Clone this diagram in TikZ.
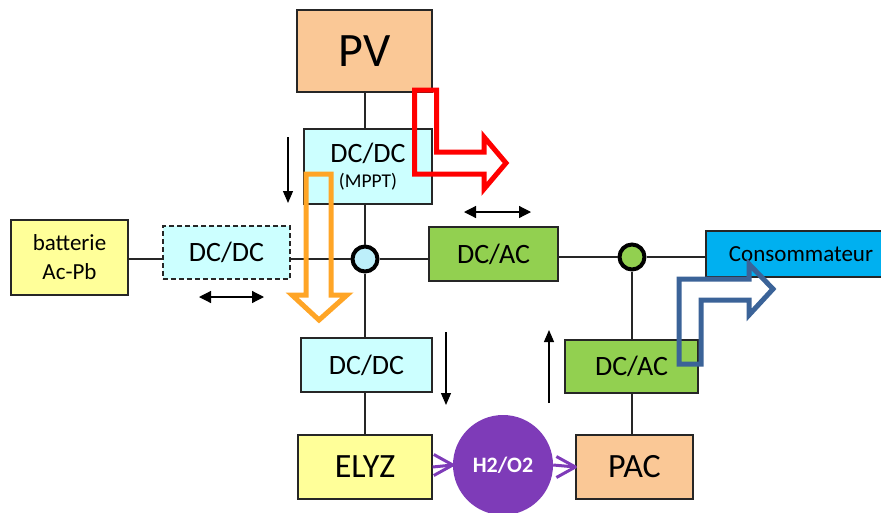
\documentclass[tikz,border=0pt]{standalone}
\usepackage{fontspec}
\setmainfont{Carlito}
\usetikzlibrary{arrows.meta}
\definecolor{peach}{HTML}{FAC896}
\definecolor{lcyan}{HTML}{CCFFFF}
\definecolor{lyellow}{HTML}{FFFF99}
\definecolor{lgreen}{HTML}{92D050}
\definecolor{cblue}{HTML}{00B0F0}
\definecolor{jblue}{HTML}{BDEFFA}
\definecolor{purp}{HTML}{7E3BB8}
\definecolor{orng}{HTML}{FFA526}
\definecolor{steel}{HTML}{3B6398}
\begin{document}
\begin{tikzpicture}[x=1pt,y=-1pt,
  box/.style={draw=black!85,line width=1.2pt,inner sep=0pt,anchor=center,align=center},
  wire/.style={draw=black!85,line width=1.2pt},
  junction/.style={circle,draw=black,line width=4pt,minimum size=25pt,inner sep=0pt},
  flow/.style={-{Triangle[length=12pt,width=10pt]},line width=1.2pt,black},
  both/.style={{Triangle[length=12pt,width=12pt]}-{Triangle[length=12pt,width=12pt]},line width=1.2pt,black},
  gas/.style={draw=purp,line width=3pt},
  chevron/.style={draw=purp,line width=3pt,line join=round},
  bigarrow/.style={line width=5pt,line join=miter,miter limit=10}]
\useasboundingbox (0,0) rectangle (881,512);
\clip (0,0) rectangle (881,512);

% boxes
\node[box,fill=peach,minimum width=135pt,minimum height=82pt,font=\fontsize{48}{50}\selectfont] (pv) at (364.5,51) {PV};
\node[box,fill=lcyan,minimum width=128pt,minimum height=75pt,font=\fontsize{28}{25}\selectfont] (mppt) at (368,166.5) {DC/DC\\{\fontsize{19.5}{21}\selectfont (MPPT)}};
\node[box,fill=lyellow,minimum width=117pt,minimum height=75pt,font=\fontsize{23}{29}\selectfont] (bat) at (69.5,257.5) {batterie\\Ac-Pb};
\node[box,fill=lcyan,dashed,dash pattern=on 5pt off 3pt,minimum width=127pt,minimum height=53pt,font=\fontsize{28}{30}\selectfont] (dcb) at (226.5,252.5) {DC/DC};
\node[box,fill=lgreen,minimum width=129pt,minimum height=54pt,font=\fontsize{28}{30}\selectfont] (dcac1) at (493.5,254) {DC/AC};
\node[box,fill=lcyan,minimum width=131pt,minimum height=54pt,font=\fontsize{28}{30}\selectfont] (dce) at (366.5,365) {DC/DC};
\node[box,fill=lgreen,minimum width=133pt,minimum height=53pt,font=\fontsize{28}{30}\selectfont] (dcac2) at (631.5,366.5) {DC/AC};
\node[box,fill=lyellow,minimum width=134pt,minimum height=64pt,font=\fontsize{34}{36}\selectfont] (elyz) at (365,467) {ELYZ};
\node[box,fill=peach,minimum width=117pt,minimum height=64pt,font=\fontsize{34}{36}\selectfont] (pac) at (634.5,467) {PAC};
\node[box,fill=cblue,minimum width=190pt,minimum height=46pt,font=\fontsize{23}{25}\selectfont] (cons) at (801,254) {Consommateur};
\node[circle,fill=purp,minimum size=100pt,inner sep=0pt,text=white,font=\bfseries\fontsize{22}{24}\selectfont] (h2) at (503,465) {H2/O2};

% junctions
\node[junction,fill=jblue] (j1) at (365,259) {};
\node[junction,fill=lgreen] (j2) at (632,257) {};

% wires
\draw[wire] (pv.south -| j1) -- (mppt.north -| j1);
\draw[wire] (mppt.south -| j1) -- (j1);
\draw[wire] (j1) -- (dce.north -| j1);
\draw[wire] (dce.south -| j1) -- (elyz.north -| j1);
\draw[wire] (bat.east |- j1) -- (dcb.west |- j1);
\draw[wire] (dcb.east |- j1) -- (j1);
\draw[wire] (j1) -- (dcac1.west |- j1);
\draw[wire] (dcac1.east |- j2) -- (j2);
\draw[wire] (j2) -- (cons.west |- j2);
\draw[wire] (j2) -- (dcac2.north -| j2);
\draw[wire] (dcac2.south -| j2) -- (pac.north -| j2);

% gas arrows
\draw[gas] (elyz.east) -- (h2.west);
\draw[chevron] ([xshift=-19pt,yshift=10.5pt]h2.west) -- (h2.west) -- ([xshift=-19pt,yshift=-10.5pt]h2.west);
\draw[gas] (h2.east) -- (pac.west);
\draw[chevron] ([xshift=-19pt,yshift=10.5pt]pac.west) -- (pac.west) -- ([xshift=-19pt,yshift=-10.5pt]pac.west);

% small black arrows
\coordinate (a1s) at (288,137); \coordinate (a1e) at (288,203);
\coordinate (a2s) at (446,332); \coordinate (a2e) at (446,405);
\coordinate (a3s) at (549,403); \coordinate (a3e) at (549,330);
\coordinate (b1s) at (199,297); \coordinate (b1e) at (264,297);
\coordinate (b2s) at (464,212); \coordinate (b2e) at (531,212);
\draw[flow] (a1s) -- (a1e);
\draw[flow] (a2s) -- (a2e);
\draw[flow] (a3s) -- (a3e);
\draw[both] (b1s) -- (b1e);
\draw[both] (b2s) -- (b2e);

% big outline arrows
\draw[bigarrow,draw=red] (414.5,90) -- (436.5,90) -- (436.5,152) -- (484,152) -- (484,137) -- (506,163) -- (484,189) -- (484,174) -- (414.5,174) -- cycle;
\draw[bigarrow,draw=orng] (306,174) -- (331,174) -- (331,295) -- (347,295) -- (319,320) -- (292,295) -- (306,295) -- cycle;
\draw[bigarrow,draw=steel] (679,364) -- (679,279) -- (749,279) -- (749,264) -- (773,289) -- (749,315) -- (749,300) -- (701,300) -- (701,364) -- cycle;
\end{tikzpicture}
\end{document}
